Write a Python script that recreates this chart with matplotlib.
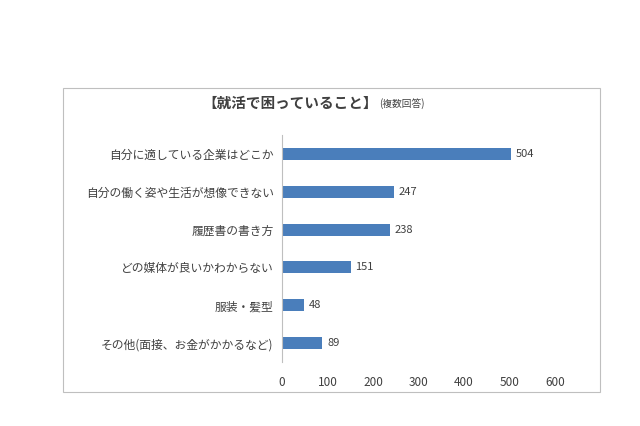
import matplotlib
matplotlib.use("Agg")
import matplotlib.pyplot as plt
from matplotlib.patches import Rectangle

plt.rcParams["font.family"] = "Noto Sans CJK JP"

categories = ["自分に適している企業はどこか", "自分の働く姿や生活が想像できない", "履歴書の書き方",
              "どの媒体が良いかわからない", "服装・髪型", "その他(面接、お金がかかるなど)"]
values = [504, 247, 238, 151, 48, 89]
xticks = [0, 100, 200, 300, 400, 500, 600]

W, H = 640, 426
fig = plt.figure(figsize=(W/100, H/100), dpi=100)
fig.patches.append(Rectangle((63/W, 1-392/H), (600-63)/W, (392-88)/H, transform=fig.transFigure,
                             fill=False, edgecolor="#bfbfbf", linewidth=0.8))
ax = fig.add_axes([282/W, 1-362/H, (555-282)/W, (362-135)/H])
y = list(range(len(categories)))
ax.barh(y, values, height=0.32, color="#4a7ebb")
ax.set_ylim(len(categories)-0.5, -0.5)
ax.set_xlim(0, 600)
ax.set_xticks(xticks)
ax.set_yticks(y)
ax.set_yticklabels(categories, fontsize=8.5, color="#404040")
ax.tick_params(axis="x", labelsize=8.5, colors="#404040", length=0, pad=10)
ax.tick_params(axis="y", length=0, pad=6)
for s in ["top", "right", "bottom"]:
    ax.spines[s].set_visible(False)
ax.spines["left"].set_color("#bfbfbf")
for v, yy in zip(values, y):
    ax.text(v + 10, yy, str(v), va="center", fontsize=8, color="#404040")
fig.text(378/W, 1-103/H, "【就活で困っていること】", ha="right", va="center", fontsize=10.5,
         fontweight="bold", color="#404040")
fig.text(379/W, 1-104/H, "(複数回答)", ha="left", va="center", fontsize=7, color="#404040")
fig.savefig("out.png", dpi=100, facecolor="white")
